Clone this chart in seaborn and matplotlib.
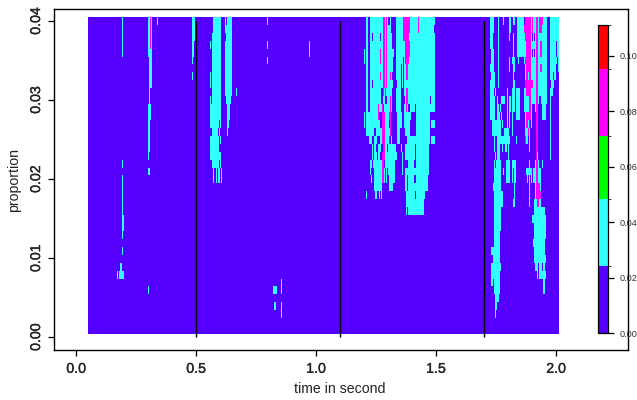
import numpy as np
import matplotlib
matplotlib.use("Agg")
import matplotlib.pyplot as plt
import matplotlib.patheffects as pe
from matplotlib.colors import ListedColormap, BoundaryNorm
import seaborn as sns

# ---- data ----
n_frames = 471
n_rows = 40
t_start = 0.05
frames_per_second = 240.0
p_top = 0.04054
p_per_row = 0.001003

levels = [0.0, 0.0241, 0.0483, 0.0712, 0.0953, 0.111]
level_colors = ["#5500FF", "#33FFFF", "#00FF00", "#FF00FF", "#FF0000"]
background_value = 0.01
cyan_value = 0.035
magenta_value = 0.085
red_value = 0.10

x_ticks = [0.0, 0.5, 1.0, 1.5, 2.0]
x_labels = ["0.0", "0.5", "1.0", "1.5", "2.0"]
y_ticks = [0.00, 0.01, 0.02, 0.03, 0.04]
y_labels = ["0.00", "0.01", "0.02", "0.03", "0.04"]
cbar_ticks = [0.00, 0.02, 0.04, 0.06, 0.08, 0.10]
cbar_labels = ["0.00", "0.02", "0.04", "0.06", "0.08", "0.10"]
change_points = [0.5, 1.1, 1.7]

# Runs of frames per row (row 0 = top row), (start, end) frame numbers.
cyan_left = {
    0: [(34,35),(60,64),(69,70),(104,107),(125,133),(137,138),(139,144),(179,180)],
    1: [(34,35),(60,64),(104,107),(125,133),(137,144)],
    2: [(34,35),(60,64),(104,107),(124,133),(138,144)],
    3: [(34,35),(60,64),(104,106),(122,123),(124,133),(137,144),(179,180),(221,222)],
    4: [(34,35),(60,64),(104,106),(124,133),(137,144),(221,222)],
    5: [(61,64),(104,105),(124,133),(137,144),(179,180)],
    6: [(61,64),(124,133),(137,144)],
    7: [(61,64),(104,105),(122,123),(124,133),(137,144)],
    8: [(61,64),(122,123),(124,133),(137,144)],
    9: [(61,62),(124,133),(137,144),(148,149)],
    10: [(61,62),(122,123),(124,133),(138,143)],
    11: [(60,63),(122,133),(139,142)],
    12: [(60,63),(122,133),(139,142)],
    13: [(60,62),(122,131),(132,133),(139,141)],
    14: [(60,62),(124,130),(131,132),(139,140)],
    15: [(60,62),(122,131),(132,133)],
    16: [(60,62),(122,131)],
    17: [(60,61),(122,133)],
    18: [(34,35),(124,131),(132,133)],
    19: [(60,62),(125,126),(128,129),(130,132),(133,134)],
    20: [(34,35),(125,126),(128,129),(130,132),(133,134)],
    21: [(34,35)], 22: [(34,35)], 23: [(34,35)], 24: [(34,35)],
    25: [(34,36)], 26: [(34,36)], 27: [(34,35)], 29: [(34,35)],
    31: [(32,34)],
    32: [(29,30),(31,36)],
    33: [(193,194)],
    34: [(60,61),(185,189),(193,194)],
    36: [(186,188),(193,194)],
    37: [(193,194)],
}
magenta_left = {0: [(62,63)], 1: [(62,63)], 2: [(62,63)], 3: [(62,63)]}

cyan_mid = {
    0: [(278,280),(282,300),(302,303),(308,347)],
    1: [(278,280),(282,303),(308,346)],
    2: [(278,280),(282,284),(285,292),(293,304),(308,347)],
    3: [(278,280),(282,304),(308,347)],
    4: [(276,277),(278,280),(282,306),(308,347)],
    5: [(276,277),(278,280),(282,305),(308,315),(316,347)],
    6: [(278,280),(282,305),(308,313),(314,315),(316,347)],
    7: [(278,280),(282,304),(308,313),(314,315),(316,347)],
    8: [(278,280),(282,284),(285,305),(309,313),(314,315),(316,347)],
    9: [(278,280),(282,293),(295,304),(308,313),(316,347)],
    10: [(278,280),(282,293),(295,297),(299,304),(308,313),(317,342),(343,347)],
    11: [(278,280),(282,304),(308,313),(316,320),(322,327),(328,347)],
    12: [(276,277),(278,290),(297,301),(309,314),(316,323),(328,342)],
    13: [(276,277),(278,292),(297,301),(309,314),(316,322),(328,342),(343,347)],
    14: [(278,286),(288,294),(297,302),(309,312),(317,322),(328,342)],
    15: [(281,284),(286,289),(292,294),(297,301),(303,304),(309,312),(319,342),(343,347)],
    16: [(284,285),(286,288),(290,293),(297,299),(300,308),(313,314),(317,327),(328,341)],
    17: [(284,285),(286,289),(290,292),(297,309),(314,315),(317,327),(328,341)],
    18: [(282,284),(285,294),(297,307),(314,315),(320,326),(328,341)],
    19: [(282,283),(286,294),(296,297),(298,299),(300,307),(314,315),(317,341)],
    20: [(283,284),(286,294),(296,297),(298,299),(301,307),(317,319),(320,326),(328,340)],
    21: [(286,294),(301,305),(317,319),(320,340)],
    22: [(278,279),(287,289),(291,292),(293,294),(318,327),(328,337)],
    23: [(318,336)],
    24: [(318,319),(320,336)],
}
magenta_mid = {
    0: [(295,297),(298,299),(315,322),(330,331)],
    1: [(295,297),(298,299),(315,322),(330,331)],
    2: [(295,297),(298,299),(315,321)],
    3: [(295,297),(298,299),(317,322)],
    4: [(292,293),(295,297),(298,299),(317,322)],
    5: [(292,293),(295,297),(298,299),(317,321)],
    6: [(295,297),(298,299),(318,320)],
    7: [(292,293),(295,297),(298,299),(302,303),(318,320)],
    8: [(295,297),(298,299)],
    9: [(295,296),(297,298),(318,320)],
    10: [(302,303),(318,320)],
    11: [(290,291),(294,295),(302,303),(318,319)],
    12: [(290,291),(294,297),(301,303)],
    13: [(294,297),(302,303)],
    14: [(294,297),(302,303)],
    15: [(294,297),(301,302)],
    16: [(295,297)],
    17: [(294,297)],
    18: [(294,296)],
    19: [(294,296)],
    20: [(294,296)],
}
red_mid = {11: [(295,296)], 15: [(295,296)]}

cyan_right = {
    0: [(402,406),(410,411),(415,416),(421,423),(425,427),(429,436),(437,459),(462,471)],
    1: [(402,406),(410,411),(421,423),(429,436),(443,459),(462,471)],
    2: [(402,405),(410,411),(421,422),(425,426),(429,444),(445,446),(447,459),(462,471)],
    3: [(402,405),(410,411),(425,426),(429,459),(462,468),(469,471)],
    4: [(403,406),(410,411),(425,426),(429,444),(445,446),(447,459),(462,468),(469,471)],
    5: [(403,406),(410,411),(421,422),(424,427),(430,431),(436,459),(462,469),(470,471)],
    6: [(402,406),(410,411),(421,422),(425,427),(437,459),(462,468),(470,471)],
    7: [(403,407),(410,411),(425,426),(437,459),(462,465),(466,468)],
    8: [(402,407),(410,411),(425,427),(437,459),(463,466)],
    9: [(402,406),(407,408),(419,420),(424,427),(428,432),(436,459),(462,465)],
    10: [(402,407),(409,410),(413,417),(419,420),(421,423),(424,427),(428,432),(436,441),(443,448),(450,451),(453,459),(462,463)],
    11: [(402,407),(409,411),(412,413),(419,420),(421,423),(424,427),(428,432),(436,441),(443,444),(447,448),(454,458),(462,463)],
    12: [(402,407),(409,412),(413,414),(419,420),(421,422),(424,425),(428,432),(437,441),(443,444),(454,458),(462,463)],
    13: [(404,413),(414,415),(419,420),(421,422),(424,425),(437,441),(443,444),(462,463)],
    14: [(404,413),(416,421),(424,425),(437,440),(441,442),(462,463)],
    15: [(406,407),(409,422),(428,429),(438,440),(441,442),(462,463)],
    16: [(406,407),(409,412),(414,415),(417,419),(420,421),(441,442),(462,463)],
    17: [(407,408),(409,412),(420,421),(449,450),(462,463)],
    18: [(406,407),(408,413),(418,422),(424,428),(441,442),(447,448),(450,451),(454,455)],
    19: [(406,413),(415,416),(418,422),(424,425),(426,428),(438,444),(445,448),(450,453)],
    20: [(406,413),(418,422),(424,425),(426,428),(439,440),(441,442),(443,444),(445,448),(450,453)],
    21: [(405,413),(426,427),(441,442),(447,448),(452,453)],
    22: [(406,415),(426,427),(441,442),(447,448)],
    23: [(406,415),(425,427),(441,442),(446,453)],
    24: [(406,413),(446,457)],
    25: [(406,413),(444,458)],
    26: [(406,413),(446,458)],
    27: [(406,412),(446,458)],
    28: [(406,412),(445,457)],
    29: [(403,412),(446,457)],
    30: [(405,412),(446,458)],
    31: [(403,413),(447,450),(451,454),(455,457)],
    32: [(403,412),(449,450),(451,458)],
    33: [(403,405),(406,412),(455,457)],
    34: [(406,412),(455,457)],
    35: [(407,411)],
    36: [(407,409)],
    37: [(407,408)],
}
magenta_right = {
    0: [(437,443),(444,445),(448,450),(451,455)],
    1: [(436,443),(444,445),(448,450),(451,454)],
    2: [(437,443),(448,450)],
    3: [(438,443),(448,450),(452,454)],
    4: [(438,443),(448,450),(452,454)],
    5: [(437,443),(448,450)],
    6: [(438,443),(448,450),(452,454)],
    7: [(438,440),(441,443),(448,450)],
    8: [(437,445),(448,450)],
    9: [(438,443),(448,450)],
    10: [(441,443),(448,450)],
    11: [(441,443),(448,450)],
    12: [(438,443),(448,450)],
    13: [(438,440),(441,442),(448,450)],
    14: [(440,441),(448,450)],
    15: [(437,438),(448,450)],
    16: [(448,450)],
    17: [(448,449)],
    18: [(448,450)],
    19: [(448,450)],
    20: [(448,450)],
    21: [(448,452)],
    22: [(448,453)],
    23: [(449,451)],
}


def paint(grid, runs, value):
    for row, spans in runs.items():
        for start, end in spans:
            grid[row, start:end] = value


matrix = np.full((n_rows, n_frames), background_value)
for runs in (cyan_left, cyan_mid, cyan_right):
    paint(matrix, runs, cyan_value)
for runs in (magenta_left, magenta_mid, magenta_right):
    paint(matrix, runs, magenta_value)
paint(matrix, red_mid, red_value)


def t_to_x(t):
    return (np.asarray(t, dtype=float) - t_start) * frames_per_second


def p_to_y(p):
    return (p_top - np.asarray(p, dtype=float)) / p_per_row


# ---- figure ----
W, H = 637, 400
sns.set_style("white")
plt.rcParams["font.family"] = ["Liberation Sans", "DejaVu Sans"]

fig = plt.figure(figsize=(W / 100, H / 100), dpi=100)
ax = fig.add_axes([54 / W, (H - 350) / H, (628 - 54) / W, (350 - 8.5) / H])
cax = fig.add_axes([597.7 / W, (H - 333.3) / H, 10 / W, 308 / H])

cmap = ListedColormap(level_colors)
norm = BoundaryNorm(levels, cmap.N)
sns.heatmap(matrix, ax=ax, cmap=cmap, norm=norm, cbar=True, cbar_ax=cax,
            cbar_kws={"spacing": "proportional", "ticks": cbar_ticks},
            xticklabels=False, yticklabels=False)

ax.vlines(t_to_x(change_points), p_to_y(0.0), p_to_y(0.04), color="black", lw=1.0, zorder=3)

ax.set_xlim(t_to_x(-0.0917), t_to_x(2.3))
ax.set_ylim(p_to_y(-0.0016), p_to_y(0.0416))

bold_look = [pe.withStroke(linewidth=0.2, foreground="black")]
ax.set_xticks(t_to_x(x_ticks))
ax.set_xticklabels(x_labels, fontsize=10.2, path_effects=bold_look)
ax.set_yticks(p_to_y(y_ticks))
ax.set_yticklabels(y_labels, fontsize=10.2, rotation=90, va="center", path_effects=bold_look)
ax.tick_params(axis="x", length=4.3, width=0.9, color="black", bottom=True, pad=4.2)
ax.tick_params(axis="y", length=4.3, width=0.9, color="black", left=True, pad=3.6)
for side in ax.spines:
    ax.spines[side].set_visible(True)
    ax.spines[side].set_linewidth(1.0)
    ax.spines[side].set_color("black")

fig.text(340 / W, 1 - 389 / H, "time in second", ha="center", va="center", fontsize=10.2, color="#222222")
fig.text(14 / W, 1 - 180 / H, "proportion", ha="center", va="center", rotation=90, fontsize=10.2, color="#222222")

cbar = ax.collections[0].colorbar
cbar.set_ticklabels(cbar_labels)
cbar.ax.tick_params(length=4.3, width=0.9, labelsize=6.6, pad=4.0, color="black", labelcolor="#333333", right=True)
cbar.outline.set_visible(True)
cbar.outline.set_edgecolor("black")
cbar.outline.set_linewidth(0.9)
cax.set_zorder(5)

fig.savefig("out.png", dpi=100)
